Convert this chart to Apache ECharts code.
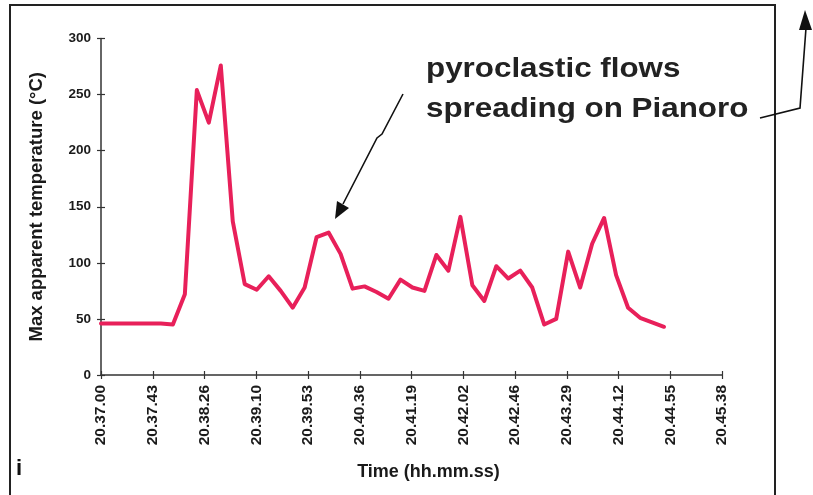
<!DOCTYPE html>
<html>
<head>
<meta charset="utf-8">
<script src="https://cdn.jsdelivr.net/npm/echarts@6/dist/echarts.min.js"></script>
<style>
html,body{margin:0;padding:0;background:#fff;}
#chart{width:813px;height:495px;}
</style>
</head>
<body>
<div id="chart"></div>
<script>
// seconds after 20:37:00
var timesSec = [0,10,20,30,40,50,60,70,80,90,100,110,120,130,140,150,160,170,180,190,200,210,220,230,240,250,260,270,280,290,300,310,320,330,340,350,360,370,380,390,400,410,420,430,440,450,460,470];
var maxTemp  = [46,46,46,46,46,46,45,72,254,225,276,137,81,76,88,75,60,78,123,127,108,77,79,74,68,85,78,75,107,93,141,80,66,97,86,93,78,45,50,110,78,117,140,89,60,51,47,43];
var yTicks = [0,50,100,150,200,250,300];
var xTickStepSec = 43.2;   // 0.0005 day
var xMaxSec = 518.4;
var yTitle = 'Max apparent temperature (°C)';
var xTitle = 'Time (hh.mm.ss)';
var annoLines = ['pyroclastic flows', 'spreading on Pianoro'];
var panelLetter = 'i';

function pad(n){ return (n < 10 ? '0' : '') + n; }
function fmtTime(v){
  var s = Math.round(v);
  var m = 37 + Math.floor(s / 60);
  var sec = s % 60;
  return '20.' + pad(m) + '.' + pad(sec);
}

var data = timesSec.map(function(t, i){ return [t, maxTemp[i]]; });

var chart = echarts.init(document.getElementById('chart'), null, {renderer:'canvas'});
var axisColor = '#333';
var option = {
  backgroundColor: '#fff',
  animation: false,
  grid: {left: 101, right: 91, top: 38.5, bottom: 120, containLabel: false},
  xAxis: [{
    type: 'value', min: 0, max: xMaxSec, interval: xTickStepSec,
    name: xTitle, nameLocation: 'middle', nameGap: 88,
    nameTextStyle: {fontFamily: 'Liberation Sans', fontWeight: 'bold', fontSize: 18, color: '#1a1a1a', padding: [0,0,0,34]},
    axisLine: {show: true, lineStyle: {color: axisColor, width: 1.5}},
    axisTick: {show: true, length: 4, lineStyle: {color: axisColor, width: 1.2}},
    axisLabel: {show: true, rotate: 90, margin: 10, showMinLabel: true, showMaxLabel: true,
      fontFamily: 'Liberation Sans', fontWeight: 'bold', fontSize: 15.5, color: '#1a1a1a',
      formatter: fmtTime},
    splitLine: {show: false}
  },{
    type: 'value', min: 0, max: xMaxSec, interval: xTickStepSec, position: 'bottom',
    axisLine: {show: false},
    axisTick: {show: true, inside: true, length: 4, lineStyle: {color: axisColor, width: 1.2}},
    axisLabel: {show: false}, splitLine: {show: false}
  }],
  yAxis: [{
    type: 'value', min: yTicks[0], max: yTicks[yTicks.length-1], interval: yTicks[1]-yTicks[0],
    name: yTitle, nameLocation: 'middle', nameGap: 55,
    nameTextStyle: {fontFamily: 'Liberation Sans', fontWeight: 'bold', fontSize: 18.5, color: '#1a1a1a'},
    axisLine: {show: true, lineStyle: {color: axisColor, width: 1.5}},
    axisTick: {show: true, length: 4, lineStyle: {color: axisColor, width: 1.2}},
    axisLabel: {show: true, margin: 10, fontFamily: 'Liberation Sans', fontWeight: 'bold', fontSize: 13.5, color: '#1a1a1a'},
    splitLine: {show: false}
  },{
    type: 'value', min: yTicks[0], max: yTicks[yTicks.length-1], interval: yTicks[1]-yTicks[0], position: 'left',
    axisLine: {show: false},
    axisTick: {show: true, inside: true, length: 4, lineStyle: {color: axisColor, width: 1.2}},
    axisLabel: {show: false}, splitLine: {show: false}
  }],
  series: [{
    type: 'line', data: data, xAxisIndex: 0, yAxisIndex: 0,
    showSymbol: false, symbol: 'none',
    lineStyle: {color: '#e8205a', width: 4, join: 'round', cap: 'round'},
    z: 5
  }],
  graphic: [
    {type: 'rect', shape: {x: 10, y: 5, width: 765, height: 500}, style: {fill: 'none', stroke: '#222', lineWidth: 2}, silent: true},
    {type: 'text', left: 426, top: 55, scaleX: 1.12, style: {text: annoLines[0], font: 'bold 28px "Liberation Sans"', fill: '#222'}},
    {type: 'text', left: 426, top: 95, scaleX: 1.12, style: {text: annoLines[1], font: 'bold 28px "Liberation Sans"', fill: '#222'}},
    {type: 'text', left: 16, top: 458, style: {text: panelLetter, font: 'bold 22px "Liberation Sans"', fill: '#111'}},
    // arrow to first pyroclastic flow peak
    {type: 'polyline', shape: {points: [[403, 94], [382, 134], [377, 138], [343, 204]]}, style: {stroke: '#111', lineWidth: 1.6, fill: 'none'}},
    {type: 'polygon', shape: {points: [[335, 219], [337, 201], [349, 208]]}, style: {fill: '#111'}},
    // arrow leaving the panel
    {type: 'polyline', shape: {points: [[760, 118], [800, 108], [806, 28]]}, style: {stroke: '#111', lineWidth: 1.6, fill: 'none'}},
    {type: 'polygon', shape: {points: [[805, 10], [799, 30], [812, 30]]}, style: {fill: '#111'}}
  ]
};
chart.setOption(option);
</script>
</body>
</html>
